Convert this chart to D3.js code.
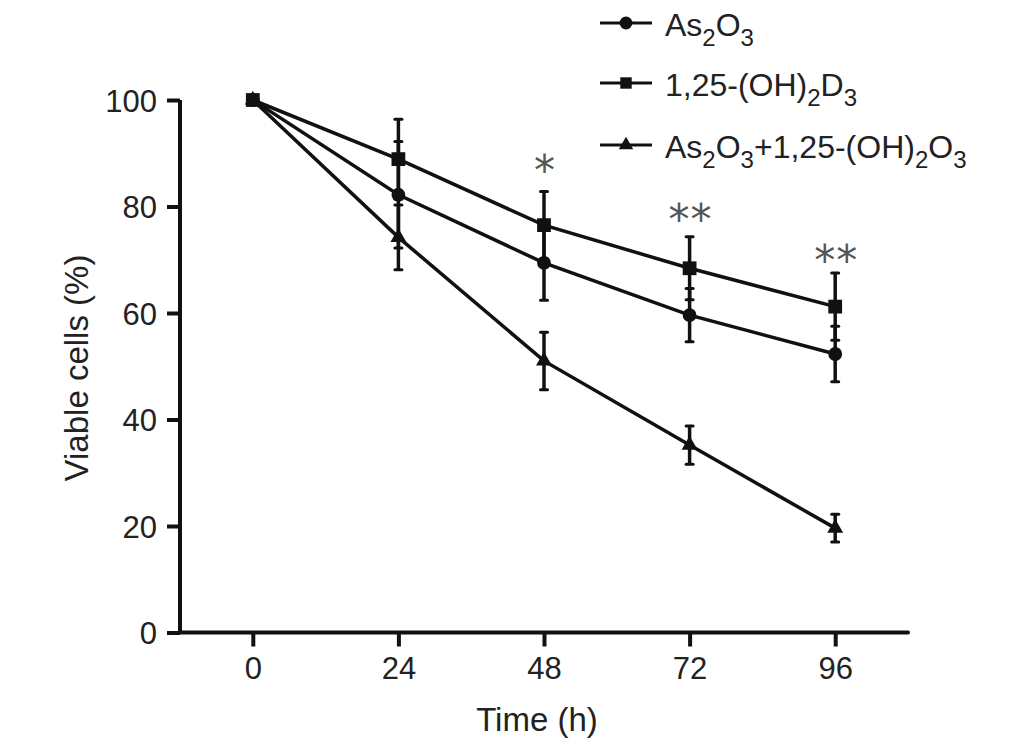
<!DOCTYPE html>
<html>
<head>
<meta charset="utf-8">
<script src="https://cdn.jsdelivr.net/npm/d3@7"></script>
<style>
  html, body { margin: 0; padding: 0; background: #fff; }
  svg { display: block; }
  text { font-family: "Liberation Sans", Arial, Helvetica, sans-serif; fill: #222; }
</style>
</head>
<body>
<svg id="chart" width="1033" height="751"></svg>
<script>
// ---- data ----
const times = [0, 24, 48, 72, 96];
const xTicks = [0, 24, 48, 72, 96];
const yTicks = [0, 20, 40, 60, 80, 100];

const as2o3Mean = [100, 82.2, 69.4, 59.6, 52.3];
const as2o3Err  = [0, 10.0, 7.0, 5.0, 5.2];

const vitdMean  = [100, 88.9, 76.5, 68.4, 61.2];
const vitdErr   = [0, 7.5, 6.3, 5.9, 6.3];

const comboMean = [100, 74.2, 51.0, 35.2, 19.6];
const comboErr  = [0, 6.1, 5.4, 3.6, 2.6];

const sigTimes  = [48, 72, 96];
const sigLabels = ["*", "**", "**"];
const sigLevels = [88.2, 79.0, 71.3];

const seriesNames = ["As2O3", "1,25-(OH)2D3", "As2O3+1,25-(OH)2O3"];
const seriesShapes = ["circle", "square", "triangle"];

// ---- layout ----
const svg = d3.select("#chart");
const x = d3.scaleLinear().domain([-12, 108]).range([180, 908]);
const y = d3.scaleLinear().domain([0, 100]).range([632.5, 100]);

const symbolFor = {
  circle: d3.symbol().type(d3.symbolCircle).size(150),
  square: d3.symbol().type(d3.symbolSquare).size(190),
  triangle: d3.symbol().type(d3.symbolTriangle).size(110)
};

// ---- axes ----
const yAxis = svg.append("g").attr("transform", "translate(180,0)")
  .call(d3.axisLeft(y).tickValues(yTicks).tickSize(13).tickSizeOuter(0).tickPadding(10));
const xAxis = svg.append("g").attr("transform", "translate(0,632.5)")
  .call(d3.axisBottom(x).tickValues(xTicks).tickSize(14).tickSizeOuter(0).tickPadding(10));
[yAxis, xAxis].forEach(g => {
  g.select(".domain").attr("stroke", "#111").attr("stroke-width", 4);
  g.selectAll(".tick line").attr("stroke", "#111").attr("stroke-width", 4);
  g.selectAll(".tick text").style("font-size", "31px").attr("fill", "#222")
    .style("font-family", "'Liberation Sans', Arial, sans-serif");
});
xAxis.select(".domain").attr("d", `M${x.range()[0]},0H${x.range()[1]}`).attr("stroke-linecap", "round");
yAxis.select(".domain").attr("d", `M0,${y(0)}V${y(100)}`);
yAxis.selectAll(".tick text").attr("dy", "0.36em");

svg.append("text").attr("x", 537).attr("y", 731).attr("text-anchor", "middle")
  .style("font-size", "33px").text("Time (h)");
svg.append("text").attr("transform", "translate(88,368) rotate(-90)").attr("text-anchor", "middle")
  .style("font-size", "33px").text("Viable cells (%)");

// ---- series ----
const series = [
  { name: seriesNames[0], shape: seriesShapes[0], mean: as2o3Mean, err: as2o3Err },
  { name: seriesNames[1], shape: seriesShapes[1], mean: vitdMean, err: vitdErr },
  { name: seriesNames[2], shape: seriesShapes[2], mean: comboMean, err: comboErr }
];

const line = d3.line().x(d => x(d.t)).y(d => y(d.v));
const drawOrder = [2, 0, 1];
drawOrder.forEach(i => {
  const s = series[i];
  const pts = times.map((t, j) => ({ t, v: s.mean[j], e: s.err[j] }));
  const g = svg.append("g");
  g.append("path").datum(pts).attr("d", line).attr("fill", "none")
    .attr("stroke", "#111").attr("stroke-width", 3.5);
  const eb = g.selectAll(".eb").data(pts.filter(p => p.e > 0)).enter().append("g");
  eb.append("line").attr("x1", d => x(d.t)).attr("x2", d => x(d.t))
    .attr("y1", d => y(d.v - d.e)).attr("y2", d => y(d.v + d.e))
    .attr("stroke", "#111").attr("stroke-width", 3.5);
  eb.append("line").attr("x1", d => x(d.t) - 3.5).attr("x2", d => x(d.t) + 3.5)
    .attr("y1", d => y(d.v + d.e)).attr("y2", d => y(d.v + d.e))
    .attr("stroke", "#111").attr("stroke-width", 3).attr("stroke-linecap", "round");
  eb.append("line").attr("x1", d => x(d.t) - 3.5).attr("x2", d => x(d.t) + 3.5)
    .attr("y1", d => y(d.v - d.e)).attr("y2", d => y(d.v - d.e))
    .attr("stroke", "#111").attr("stroke-width", 3).attr("stroke-linecap", "round");
  g.selectAll(".pt").data(pts).enter().append("path")
    .attr("d", symbolFor[s.shape])
    .attr("transform", d => `translate(${x(d.t)},${y(d.v)})`)
    .attr("fill", "#111");
});

// ---- significance ----
svg.selectAll(".sig").data(sigTimes).enter().append("text")
  .attr("x", d => x(d) + 1).attr("y", (d, i) => y(sigLevels[i]) + 22)
  .attr("text-anchor", "middle")
  .style("font-family", "'DejaVu Sans', sans-serif")
  .style("font-size", "42px").style("fill", "#555")
  .attr("letter-spacing", "1px")
  .text((d, i) => sigLabels[i]);

// ---- legend ----
const legendRows = [23, 83, 145];
const legendParts = [
  [["As", 0], ["2", 1], ["O", 0], ["3", 1]],
  [["1,25-(OH)", 0], ["2", 1], ["D", 0], ["3", 1]],
  [["As", 0], ["2", 1], ["O", 0], ["3", 1], ["+1,25-(OH)", 0], ["2", 1], ["O", 0], ["3", 1]]
];
series.forEach((s, i) => {
  const ly = legendRows[i];
  svg.append("line").attr("x1", 600).attr("x2", 652).attr("y1", ly).attr("y2", ly)
    .attr("stroke", "#111").attr("stroke-width", 3.2);
  svg.append("path").attr("d", d3.symbol().type(
      s.shape === "circle" ? d3.symbolCircle : s.shape === "square" ? d3.symbolSquare : d3.symbolTriangle)
      .size(s.shape === "triangle" ? 90 : 130))
    .attr("transform", `translate(626,${ly})`).attr("fill", "#111");
  const t = svg.append("text").attr("x", 665).attr("y", ly + 13).style("font-size", "32px");
  legendParts[i].forEach(([str, sub], k) => {
    const prev = k > 0 ? legendParts[i][k - 1][1] : 0;
    const ts = t.append("tspan").text(str);
    if (sub && !prev) ts.attr("dy", 10).style("font-size", "24px");
    else if (!sub && prev) ts.attr("dy", -10).style("font-size", "32px");
    else if (sub) ts.style("font-size", "24px");
  });
});
</script>
</body>
</html>
